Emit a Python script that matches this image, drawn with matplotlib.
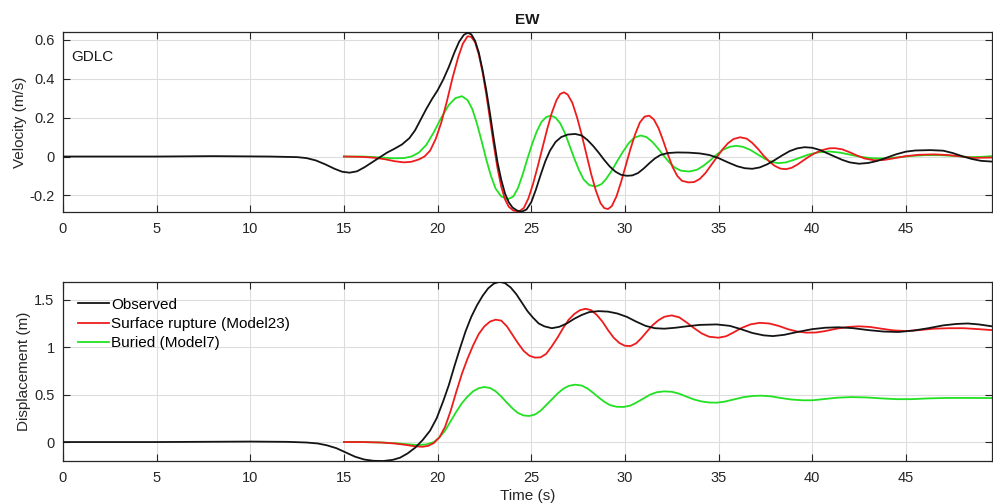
import matplotlib
matplotlib.use("Agg")
import matplotlib.pyplot as plt

plt.rcParams['font.family'] = ['Liberation Sans', 'DejaVu Sans']

# ---------------- data ----------------
t_obs_v = [0, 5, 8, 11, 12.5, 13.0, 13.5, 14.0, 14.5, 14.9, 15.3, 15.7, 16.1, 16.5, 16.9, 17.3,
           17.7, 18.1, 18.5, 18.8, 19.1, 19.4, 19.7, 20.0, 20.3, 20.6, 20.9, 21.15, 21.4, 21.6,
           21.8, 22.0, 22.2, 22.4, 22.6, 22.8, 23.0, 23.2, 23.4, 23.6, 23.8, 24.0, 24.25, 24.5,
           24.75, 25.0, 25.25, 25.5, 25.75, 26.0, 26.3, 26.6, 26.95, 27.35, 27.7, 28.0, 28.3,
           28.6, 28.9, 29.2, 29.5, 29.8, 30.1, 30.4, 30.7, 31.0, 31.3, 31.6, 31.9, 32.3, 32.8,
           33.4, 34.0, 34.5, 35.0, 35.5, 36.0, 36.4, 36.8, 37.2, 37.6, 38.0, 38.4, 38.8, 39.2,
           39.6, 40.0, 40.4, 40.8, 41.2, 41.6, 42.0, 42.5, 43.0, 43.5, 44.0, 44.5, 45.0, 45.5,
           46.3, 47.0, 47.5, 48.0, 48.5, 49.0, 49.6]
v_obs = [0, 0, 0.002, 0.0, -0.003, -0.008, -0.02, -0.04, -0.063, -0.078, -0.083, -0.076, -0.055,
         -0.03, -0.005, 0.02, 0.04, 0.062, 0.095, 0.135, 0.19, 0.245, 0.295, 0.34, 0.395, 0.46,
         0.535, 0.59, 0.625, 0.636, 0.628, 0.595, 0.535, 0.445, 0.34, 0.22, 0.09, -0.03, -0.12,
         -0.19, -0.235, -0.262, -0.278, -0.283, -0.272, -0.235, -0.17, -0.095, -0.025, 0.03,
         0.075, 0.1, 0.113, 0.116, 0.108, 0.085, 0.055, 0.02, -0.018, -0.052, -0.078, -0.094,
         -0.099, -0.097, -0.085, -0.062, -0.035, -0.01, 0.008, 0.018, 0.021, 0.02, 0.016, 0.008,
         -0.008, -0.03, -0.05, -0.06, -0.063, -0.056, -0.04, -0.018, 0.006, 0.028, 0.042, 0.048,
         0.045, 0.034, 0.017, 0.0, -0.017, -0.03, -0.037, -0.033, -0.022, -0.005, 0.012, 0.025,
         0.031, 0.033, 0.03, 0.018, 0.002, -0.012, -0.022, -0.026]

t_m23_v = [15, 16, 16.6, 17.2, 17.7, 18.2, 18.6, 19.0, 19.3, 19.6, 19.9, 20.2, 20.5, 20.8, 21.1,
           21.35, 21.6, 21.8, 22.0, 22.2, 22.4, 22.6, 22.8, 23.0, 23.2, 23.4, 23.6, 23.8, 24.05,
           24.35, 24.6, 24.85, 25.1, 25.35, 25.6, 25.85, 26.1, 26.35, 26.55, 26.75, 26.95, 27.2,
           27.45, 27.7, 27.95, 28.2, 28.45, 28.7, 28.9, 29.1, 29.3, 29.55, 29.8, 30.05, 30.3,
           30.55, 30.8, 31.05, 31.3, 31.55, 31.8, 32.05, 32.3, 32.55, 32.8, 33.05, 33.4, 33.7,
           34.0, 34.3, 34.6, 34.9, 35.2, 35.5, 35.8, 36.15, 36.5, 36.8, 37.1, 37.4, 37.7, 38.0,
           38.3, 38.6, 38.9, 39.2, 39.5, 39.8, 40.1, 40.5, 40.9, 41.2, 41.6, 42.0, 42.4, 42.8,
           43.3, 43.8, 44.3, 45.0, 45.7, 46.5, 47.2, 47.9, 48.6, 49.6]
v_m23 = [0, -0.002, -0.006, -0.014, -0.024, -0.03, -0.027, -0.015, 0.0, 0.03, 0.09, 0.175, 0.285,
         0.405, 0.51, 0.58, 0.618, 0.615, 0.588, 0.525, 0.435, 0.32, 0.19, 0.06, -0.06, -0.155,
         -0.22, -0.258, -0.278, -0.282, -0.265, -0.215, -0.14, -0.05, 0.045, 0.14, 0.225, 0.29,
         0.322, 0.33, 0.318, 0.275, 0.2, 0.11, 0.01, -0.09, -0.175, -0.24, -0.265, -0.27, -0.255,
         -0.205, -0.13, -0.045, 0.04, 0.115, 0.175, 0.205, 0.21, 0.19, 0.145, 0.08, 0.01, -0.055,
         -0.1, -0.125, -0.133, -0.131, -0.115, -0.085, -0.045, -0.005, 0.035, 0.068, 0.09, 0.099,
         0.092, 0.07, 0.04, 0.005, -0.025, -0.048, -0.062, -0.065, -0.058, -0.042, -0.022,
         -0.002, 0.015, 0.032, 0.042, 0.043, 0.037, 0.022, 0.005, -0.01, -0.019, -0.018, -0.01,
         0.002, 0.009, 0.011, 0.008, 0.001, -0.007, -0.005]

t_m7_v = [15, 16, 16.8, 17.6, 18.2, 18.6, 19.0, 19.4, 19.8, 20.2, 20.6, 20.95, 21.3, 21.6, 21.85,
          22.1, 22.35, 22.6, 22.85, 23.1, 23.4, 23.75, 24.05, 24.3, 24.55, 24.8, 25.05, 25.3,
          25.55, 25.8, 26.05, 26.3, 26.55, 26.8, 27.05, 27.3, 27.55, 27.8, 28.1, 28.45, 28.75,
          29.0, 29.3, 29.6, 29.9, 30.2, 30.5, 30.85, 31.15, 31.45, 31.75, 32.05, 32.35, 32.65,
          33.0, 33.45, 33.85, 34.2, 34.55, 34.9, 35.25, 35.6, 35.95, 36.3, 36.7, 37.1, 37.5,
          37.85, 38.2, 38.6, 39.0, 39.4, 39.8, 40.3, 40.9, 41.5, 42.0, 42.5, 43.2, 43.9, 44.6,
          45.3, 46.0, 46.8, 47.6, 48.4, 49.0, 49.6]
v_m7 = [0, 0.0, -0.004, -0.009, -0.008, 0.0, 0.02, 0.06, 0.125, 0.2, 0.265, 0.3, 0.31, 0.29,
        0.245, 0.17, 0.08, -0.015, -0.1, -0.165, -0.205, -0.22, -0.205, -0.16, -0.09, -0.01,
        0.065, 0.13, 0.178, 0.203, 0.21, 0.2, 0.17, 0.12, 0.055, -0.01, -0.07, -0.118, -0.147,
        -0.154, -0.142, -0.115, -0.072, -0.022, 0.025, 0.068, 0.097, 0.108, 0.1, 0.077, 0.044,
        0.007, -0.028, -0.056, -0.073, -0.077, -0.068, -0.047, -0.02, 0.01, 0.035, 0.05, 0.055,
        0.05, 0.034, 0.01, -0.013, -0.028, -0.034, -0.03, -0.018, -0.004, 0.01, 0.021, 0.026,
        0.02, 0.01, 0.0, -0.009, -0.01, -0.004, 0.003, 0.007, 0.007, 0.003, -0.003, -0.002, 0.002]

t_obs_d = [0, 5, 8, 10, 12, 13, 13.6, 14.1, 14.6, 15.1, 15.6, 16.1, 16.6, 17.1, 17.6, 18.0, 18.4,
           18.8, 19.2, 19.6, 19.95, 20.3, 20.6, 20.9, 21.2, 21.5, 21.8, 22.1, 22.4, 22.7, 23.0,
           23.3, 23.6, 23.9, 24.2, 24.5, 24.8, 25.1, 25.4, 25.7, 26.1, 26.5, 26.9, 27.3, 27.7,
           28.1, 28.6, 29.1, 29.6, 30.1, 30.6, 31.1, 31.6, 32.1, 32.7, 33.3, 34.0, 34.9, 35.6,
           36.2, 36.8, 37.4, 37.9, 38.5, 39.2, 40.0, 40.7, 41.4, 42.2, 43.0, 43.8, 44.6, 45.4,
           46.2, 47.0, 47.7, 48.3, 48.9, 49.6]
d_obs = [0, 0, 0.003, 0.005, 0.002, -0.005, -0.015, -0.035, -0.065, -0.11, -0.155, -0.185,
         -0.198, -0.2, -0.188, -0.165, -0.12, -0.06, 0.02, 0.12, 0.25, 0.43, 0.6, 0.8, 0.99, 1.17,
         1.32, 1.44, 1.54, 1.62, 1.67, 1.69, 1.675, 1.63, 1.56, 1.47, 1.38, 1.31, 1.25, 1.22,
         1.2, 1.215, 1.25, 1.3, 1.34, 1.37, 1.38, 1.375, 1.355, 1.32, 1.27, 1.225, 1.2, 1.195,
         1.205, 1.22, 1.235, 1.24, 1.225, 1.19, 1.15, 1.125, 1.117, 1.13, 1.16, 1.19, 1.205,
         1.21, 1.2, 1.18, 1.165, 1.16, 1.175, 1.2, 1.23, 1.245, 1.25, 1.24, 1.22]

t_m23_d = [15, 16, 17, 17.7, 18.3, 18.8, 19.2, 19.5, 19.8, 20.1, 20.4, 20.7, 21.0, 21.3, 21.6,
           21.9, 22.2, 22.5, 22.8, 23.1, 23.4, 23.7, 24.0, 24.3, 24.6, 24.9, 25.2, 25.5, 25.8,
           26.1, 26.4, 26.7, 27.0, 27.3, 27.6, 27.9, 28.2, 28.5, 28.8, 29.1, 29.4, 29.7, 30.0,
           30.3, 30.6, 30.9, 31.2, 31.5, 31.8, 32.1, 32.5, 32.9, 33.3, 33.7, 34.1, 34.5, 35.0,
           35.4, 35.8, 36.2, 36.7, 37.2, 37.7, 38.2, 38.7, 39.2, 39.7, 40.2, 40.7, 41.3, 41.9,
           42.5, 43.1, 43.7, 44.3, 45.0, 45.7, 46.5, 47.3, 48.1, 48.9, 49.6]
d_m23 = [0, 0, -0.005, -0.015, -0.03, -0.045, -0.05, -0.04, -0.01, 0.05, 0.16, 0.33, 0.53, 0.72,
         0.88, 1.02, 1.14, 1.22, 1.27, 1.29, 1.28, 1.22, 1.13, 1.04, 0.96, 0.91, 0.89, 0.893,
         0.93, 1.01, 1.1, 1.2, 1.29, 1.35, 1.39, 1.405, 1.39, 1.34, 1.27, 1.18, 1.1, 1.045,
         1.015, 1.012, 1.04, 1.1, 1.17, 1.235, 1.285, 1.32, 1.335, 1.315, 1.26, 1.2, 1.145, 1.11,
         1.1, 1.115, 1.155, 1.2, 1.24, 1.257, 1.25, 1.225, 1.19, 1.165, 1.153, 1.155, 1.17,
         1.195, 1.213, 1.22, 1.213, 1.195, 1.178, 1.17, 1.18, 1.195, 1.2, 1.2, 1.19, 1.18]

t_m7_d = [15, 16, 17, 17.8, 18.5, 19.0, 19.4, 19.8, 20.1, 20.4, 20.7, 21.0, 21.3, 21.6, 21.9,
          22.2, 22.5, 22.8, 23.1, 23.4, 23.7, 24.0, 24.3, 24.6, 24.9, 25.2, 25.5, 25.8, 26.1,
          26.4, 26.7, 27.0, 27.35, 27.7, 28.0, 28.3, 28.6, 28.9, 29.2, 29.55, 29.95, 30.3, 30.65,
          31.0, 31.35, 31.7, 32.1, 32.5, 32.9, 33.3, 33.7, 34.1, 34.5, 34.9, 35.3, 35.8, 36.3,
          36.8, 37.25, 37.8, 38.3, 38.9, 39.5, 40.0, 40.6, 41.3, 42.1, 42.9, 43.7, 44.5, 45.3,
          46.2, 47.2, 48.3, 49.6]
d_m7 = [0, 0, -0.005, -0.013, -0.025, -0.032, -0.025, 0.0, 0.05, 0.12, 0.22, 0.32, 0.41, 0.48,
        0.535, 0.568, 0.58, 0.57, 0.535, 0.48, 0.415, 0.355, 0.305, 0.28, 0.275, 0.29, 0.33,
        0.39, 0.45, 0.51, 0.56, 0.592, 0.605, 0.595, 0.565, 0.52, 0.47, 0.425, 0.39, 0.372,
        0.37, 0.385, 0.42, 0.46, 0.5, 0.525, 0.534, 0.53, 0.51, 0.478, 0.448, 0.428, 0.417,
        0.415, 0.425, 0.448, 0.472, 0.485, 0.489, 0.482, 0.465, 0.448, 0.44, 0.44, 0.452, 0.467,
        0.474, 0.47, 0.46, 0.452, 0.452, 0.46, 0.465, 0.465, 0.464]

x_ticks = [0, 5, 10, 15, 20, 25, 30, 35, 40, 45]
v_ticks = [-0.2, 0, 0.2, 0.4, 0.6]
v_ticklabels = ['-0.2', '0', '0.2', '0.4', '0.6']
d_ticks = [0, 0.5, 1, 1.5]
d_ticklabels = ['0', '0.5', '1', '1.5']
labels = ['Observed', 'Surface rupture (Model23)', 'Buried (Model7)']
colors = ['#141414', '#ee1c1c', '#22e022']

# ---------------- figure ----------------
fig = plt.figure(figsize=(9.93, 5.04), dpi=100)
ax1 = fig.add_axes([0.0634, 0.5794, 0.9356, 0.3571])
ax2 = fig.add_axes([0.0634, 0.0853, 0.9356, 0.3557])

lw = 1.3
ax1.plot(t_obs_v, v_obs, color=colors[0], lw=lw, zorder=4)
ax1.plot(t_m23_v, v_m23, color=colors[1], lw=lw, zorder=3)
ax1.plot(t_m7_v, v_m7, color=colors[2], lw=lw, zorder=2)

ax2.plot(t_obs_d, d_obs, color=colors[0], lw=lw, label=labels[0], zorder=4)
ax2.plot(t_m23_d, d_m23, color=colors[1], lw=lw, label=labels[1], zorder=3)
ax2.plot(t_m7_d, d_m7, color=colors[2], lw=lw, label=labels[2], zorder=2)

for ax in (ax1, ax2):
    ax.set_xlim(0, 49.6)
    ax.set_xticks(x_ticks)
    ax.grid(True, color='#dddddd', lw=0.8)
    ax.set_axisbelow(True)
    ax.tick_params(direction='in', length=5, width=0.8, top=True, right=True,
                   labelsize=10.5, labelcolor='#262626', color='#262626')
    ax.tick_params(axis='x', pad=7)
    ax.tick_params(axis='y', pad=6)
    for s in ax.spines.values():
        s.set_color('#262626')
        s.set_linewidth(0.9)

ax1.set_ylim(-0.285, 0.64)
ax1.set_yticks(v_ticks)
ax1.set_yticklabels(v_ticklabels)
ax1.set_ylabel('Velocity (m/s)', fontsize=11, color='#262626', labelpad=2)
ax1.set_title('EW', fontsize=11, fontweight='bold', color='#1a1a1a', pad=6)
ax1.text(0.0086, 0.861, 'GDLC', transform=ax1.transAxes, fontsize=11,
         color='#1a1a1a', va='center', ha='left')

ax2.set_ylim(-0.2, 1.69)
ax2.set_yticks(d_ticks)
ax2.set_yticklabels(d_ticklabels)
ax2.set_ylabel('Displacement (m)', fontsize=11, color='#262626', labelpad=2)
ax2.set_xlabel('Time (s)', fontsize=11, color='#262626', labelpad=3)
ax2.legend(loc='upper left', frameon=False, fontsize=11, handlelength=2.0,
           handletextpad=0.15, labelspacing=0.33, borderaxespad=0.3,
           bbox_to_anchor=(0.005, 0.97))

fig.savefig('out.png', dpi=100)
